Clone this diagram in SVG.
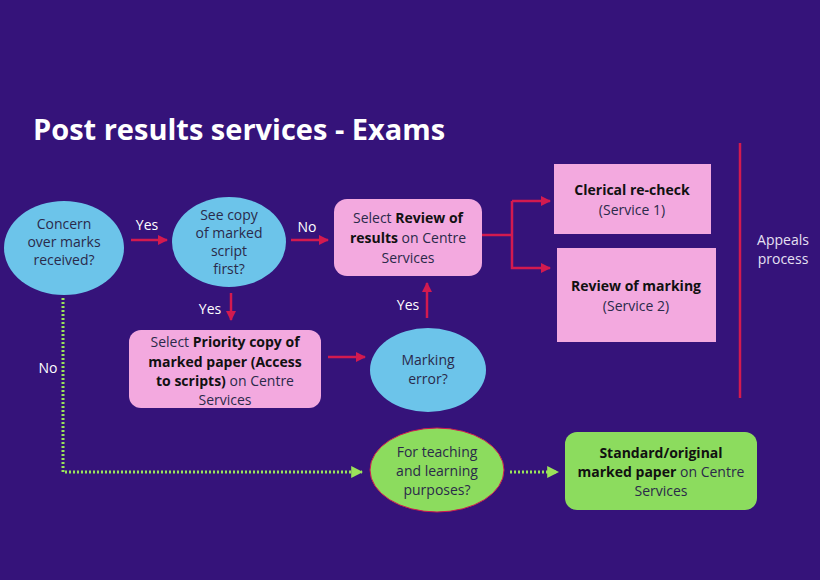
<svg xmlns="http://www.w3.org/2000/svg" width="820" height="580" viewBox="0 0 820 580">
<defs>
<marker id="ar" viewBox="0 0 10 10" refX="9" refY="5" markerWidth="4" markerHeight="4" orient="auto"><path d="M0,0 L10,5 L0,10 z" fill="#d31a4f"/></marker>
<marker id="ag" viewBox="0 0 10 10" refX="9" refY="5" markerWidth="4" markerHeight="4" orient="auto"><path d="M0,0 L10,5 L0,10 z" fill="#9be35a"/></marker>
<style>
text{font-family:"Open Sans","Noto Sans",sans-serif;font-size:14px;fill:#2a2a4a;text-anchor:middle}
.w{fill:#ffffff}
.lt{fill:#e6e0f2}
.b{font-weight:bold;fill:#111}
.bl{fill:#6cc4ea}
.pk{fill:#f3a9df}
.gr{fill:#8cdc5e}
.ln{stroke:#d31a4f;stroke-width:2.5;fill:none}
.dt{stroke:#9be35a;stroke-width:3;fill:none;stroke-dasharray:2 2}
</style>
</defs>
<rect width="820" height="580" fill="#35137a"/>
<text x="33" y="140" style="font-size:29px;font-weight:bold;text-anchor:start" class="w">Post results services - Exams</text>

<g id="connectors">
<line class="ln" x1="131" y1="240" x2="167" y2="240" marker-end="url(#ar)"/>
<line class="ln" x1="291" y1="240" x2="328" y2="240" marker-end="url(#ar)"/>
<polyline class="ln" points="482,235 512,235"/>
<polyline class="ln" points="512,201 512,268 550,268" marker-end="url(#ar)"/>
<line class="ln" x1="512" y1="201" x2="550" y2="201" marker-end="url(#ar)"/>
<line class="ln" x1="231" y1="293" x2="231" y2="320" marker-end="url(#ar)"/>
<line class="ln" x1="328" y1="357" x2="365" y2="357" marker-end="url(#ar)"/>
<line class="ln" x1="427" y1="318" x2="427" y2="283" marker-end="url(#ar)"/>
<line class="ln" x1="740" y1="143" x2="740" y2="398"/>
<polyline class="dt" points="63,298 63,472 362,472" marker-end="url(#ag)"/>
<line class="dt" x1="510" y1="472" x2="558" y2="472" marker-end="url(#ag)"/>
<text x="147" y="230" class="w">Yes</text>
<text x="307" y="232" class="w">No</text>
<text x="210" y="314" class="w">Yes</text>
<text x="408" y="310" class="w">Yes</text>
<text x="48" y="373" class="w">No</text>
</g>

<g id="concern">
<ellipse cx="64" cy="248" rx="60" ry="47" class="bl"/>
<text x="64" y="229">Concern</text>
<text x="64" y="247">over marks</text>
<text x="64" y="265">received?</text>
</g>
<g id="seecopy">
<ellipse cx="229" cy="242" rx="57" ry="45" class="bl"/>
<text x="229" y="220">See copy</text>
<text x="229" y="238">of marked</text>
<text x="229" y="256">script</text>
<text x="229" y="274">first?</text>
</g>
<g id="review">
<rect x="334" y="199" width="148" height="77" rx="13" class="pk"/>
<text x="408" y="223">Select <tspan class="b">Review of</tspan></text>
<text x="408" y="243"><tspan class="b">results</tspan> on Centre</text>
<text x="408" y="263">Services</text>
</g>
<g id="clerical">
<rect x="554" y="164" width="157" height="70" class="pk"/>
<text x="632" y="195" class="b">Clerical re-check</text>
<text x="632" y="215">(Service 1)</text>
</g>
<g id="marking">
<rect x="557" y="248" width="159" height="94" class="pk"/>
<text x="636" y="291" class="b">Review of marking</text>
<text x="636" y="311">(Service 2)</text>
</g>
<g id="appeals">
<text x="783" y="245" class="lt">Appeals</text>
<text x="783" y="264" class="lt">process</text>
</g>
<g id="priority">
<rect x="129" y="330" width="192" height="78" rx="12" class="pk"/>
<text x="225" y="347">Select <tspan class="b">Priority copy of</tspan></text>
<text x="225" y="367" class="b">marked paper (Access</text>
<text x="225" y="386"><tspan class="b">to scripts)</tspan> on Centre</text>
<text x="225" y="405">Services</text>
</g>
<g id="markerror">
<ellipse cx="428" cy="370" rx="58" ry="42" class="bl"/>
<text x="428" y="365">Marking</text>
<text x="428" y="384">error?</text>
</g>
<g id="teaching">
<ellipse cx="437" cy="470" rx="67" ry="42" class="gr" stroke="#d31a4f" stroke-width="1"/>
<text x="437" y="457">For teaching</text>
<text x="437" y="476">and learning</text>
<text x="437" y="495">purposes?</text>
</g>
<g id="standard">
<rect x="565" y="432" width="192" height="78" rx="12" class="gr"/>
<text x="661" y="458" class="b">Standard/original</text>
<text x="661" y="477"><tspan class="b">marked paper</tspan> on Centre</text>
<text x="661" y="496">Services</text>
</g>
</svg>
